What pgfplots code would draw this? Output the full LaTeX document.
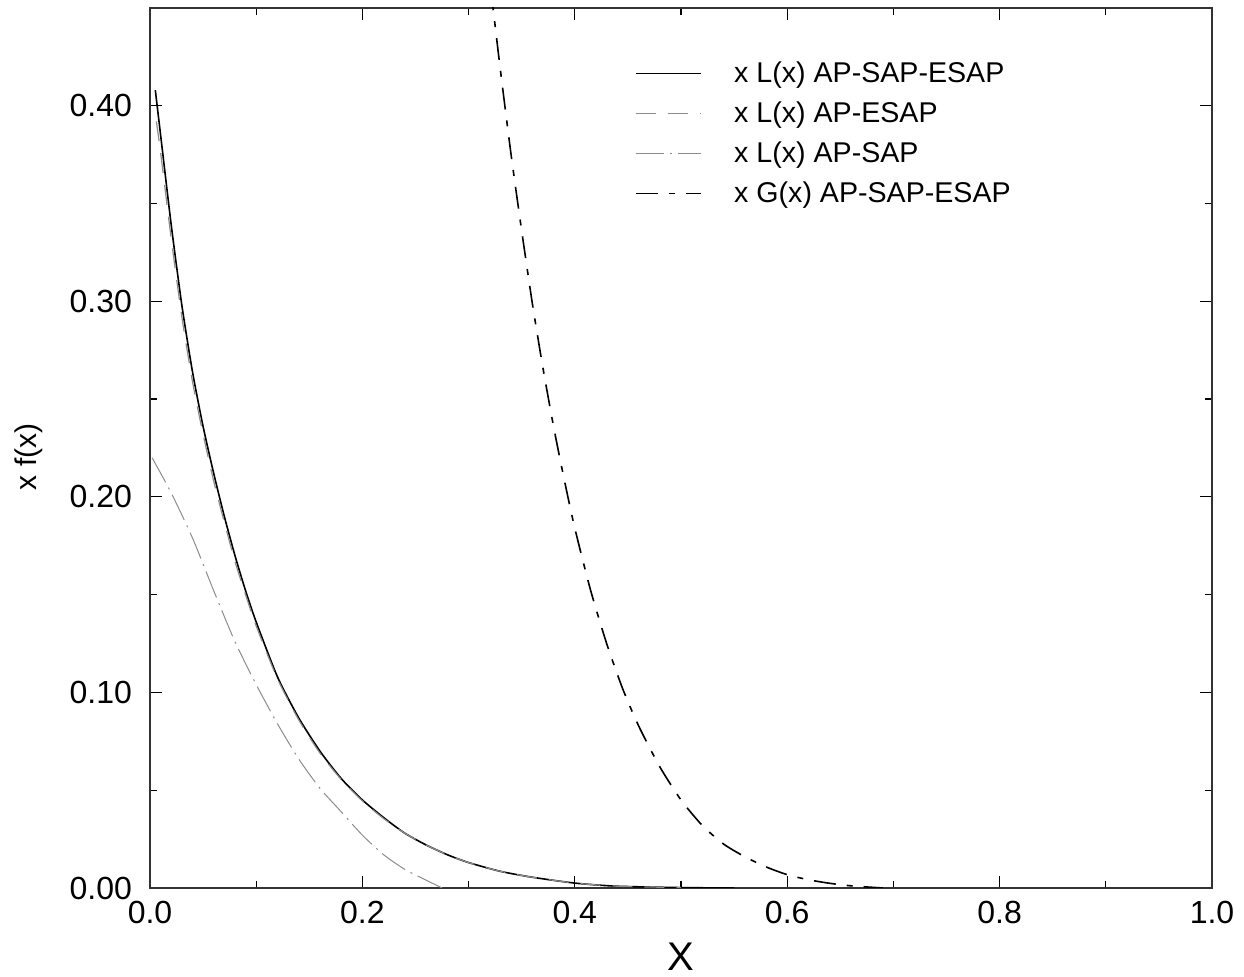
\documentclass[border=0pt]{standalone}
\usepackage{fontspec}
\setmainfont{Liberation Sans}
\usepackage{pgfplots}
\pgfplotsset{compat=1.18}
\begin{document}
\begin{tikzpicture}
\begin{axis}[
  scale only axis,
  width=531pt, height=440pt,
  xmin=0, xmax=1, ymin=0, ymax=0.45,
  xtick={0,0.2,0.4,0.6,0.8,1.0},
  ytick={0,0.1,0.2,0.3,0.4},
  minor x tick num=1, minor y tick num=1,
  major tick length=6pt, minor tick length=3.5pt,
  tick style={black, line width=0.6pt},
  axis line style={black!80, line width=0.9pt},
  /pgf/number format/assume math mode=true,
  xticklabel style={/pgf/number format/.cd, fixed, fixed zerofill, precision=1, /tikz/.cd, font=\fontsize{16}{19}\selectfont, yshift=-3pt},
  yticklabel style={/pgf/number format/.cd, fixed, fixed zerofill, precision=2, /tikz/.cd, font=\fontsize{16}{19}\selectfont, xshift=-5.5pt},
  scaled ticks=false,
  every axis x label/.style={at={(axis description cs:0.5,-0.0625)}, anchor=north, inner sep=0pt, font=\fontsize{20}{24}\selectfont},
  every axis y label/.style={at={(axis description cs:-0.1073,0.49)}, rotate=90, anchor=base, inner sep=0pt, font=\fontsize{15}{18}\selectfont},
  xlabel={X},
  ylabel={x f(x)},
  legend style={at={(rel axis cs:0.4567,0.9465)}, anchor=north west, draw=none, fill=none, inner sep=0pt,
    font=\fontsize{14.3}{17}\selectfont,
    nodes={inner sep=0pt, text height=11pt, text depth=4pt, inner ysep=2.5pt}},
  legend cell align=left,
  legend image code/.code={\draw[#1] (0pt,1pt) -- (32.5pt,1pt); \path[draw=none] (0pt,1pt) -- (49pt,1pt);},
]
\addplot[black, line width=0.8pt, smooth, tension=0.4] coordinates {
(0.005,0.408) (0.01,0.385) (0.02,0.339) (0.03,0.298) (0.04,0.264) (0.05,0.236)
(0.06,0.212) (0.07,0.190) (0.08,0.170) (0.09,0.152) (0.10,0.136) (0.12,0.108)
(0.14,0.087) (0.16,0.070) (0.18,0.056) (0.20,0.045) (0.22,0.036) (0.24,0.028)
(0.26,0.022) (0.28,0.017) (0.30,0.013) (0.33,0.0085) (0.36,0.0055) (0.40,0.0025)
(0.44,0.0009) (0.50,0.0002) (0.55,0.0)
};
\addlegendentry{x L(x) AP-SAP-ESAP}
\addplot[black!45, line width=0.6pt, dash pattern=on 10pt off 6pt, smooth, tension=0.4] coordinates {
(0.006,0.392) (0.01,0.376) (0.02,0.332) (0.03,0.292) (0.04,0.259) (0.05,0.232)
(0.06,0.208) (0.07,0.187) (0.08,0.167) (0.09,0.150) (0.10,0.134) (0.12,0.107)
(0.14,0.086) (0.16,0.069) (0.18,0.0555) (0.20,0.0445) (0.22,0.0355) (0.24,0.028)
(0.26,0.022) (0.28,0.017) (0.30,0.013) (0.33,0.0085) (0.36,0.0055) (0.40,0.0025)
(0.44,0.0009) (0.50,0.0002)
};
\addlegendentry{x L(x) AP-ESAP}
\addplot[black!45, line width=0.5pt, dash pattern=on 14pt off 3pt on 1pt off 3pt, smooth, tension=0.4] coordinates {
(0.002,0.220) (0.02,0.202) (0.04,0.179) (0.06,0.152) (0.08,0.126) (0.10,0.104)
(0.12,0.084) (0.14,0.066) (0.16,0.051) (0.18,0.039) (0.20,0.027) (0.22,0.017)
(0.24,0.0095) (0.26,0.004) (0.275,0.0)
};
\addlegendentry{x L(x) AP-SAP}
\addplot[black, line width=0.8pt, dash pattern=on 11pt off 5.5pt on 3pt off 5.5pt, smooth, tension=0.4] coordinates {
(0.3205,0.460) (0.323,0.450) (0.330,0.418) (0.340,0.375) (0.350,0.336) (0.360,0.299)
(0.370,0.266) (0.380,0.236) (0.390,0.209) (0.400,0.184) (0.415,0.152) (0.430,0.125)
(0.445,0.102) (0.460,0.083) (0.480,0.062) (0.500,0.045) (0.520,0.032) (0.540,0.0225)
(0.560,0.0160) (0.580,0.0108) (0.600,0.0068) (0.620,0.0042) (0.640,0.0024) (0.660,0.0011)
(0.690,0.0)
};
\addlegendentry{x G(x) AP-SAP-ESAP}
\end{axis}
\pgfresetboundingbox
\path[use as bounding box] (-75pt,-44.5pt) rectangle (547pt,444pt);
\end{tikzpicture}
\end{document}
